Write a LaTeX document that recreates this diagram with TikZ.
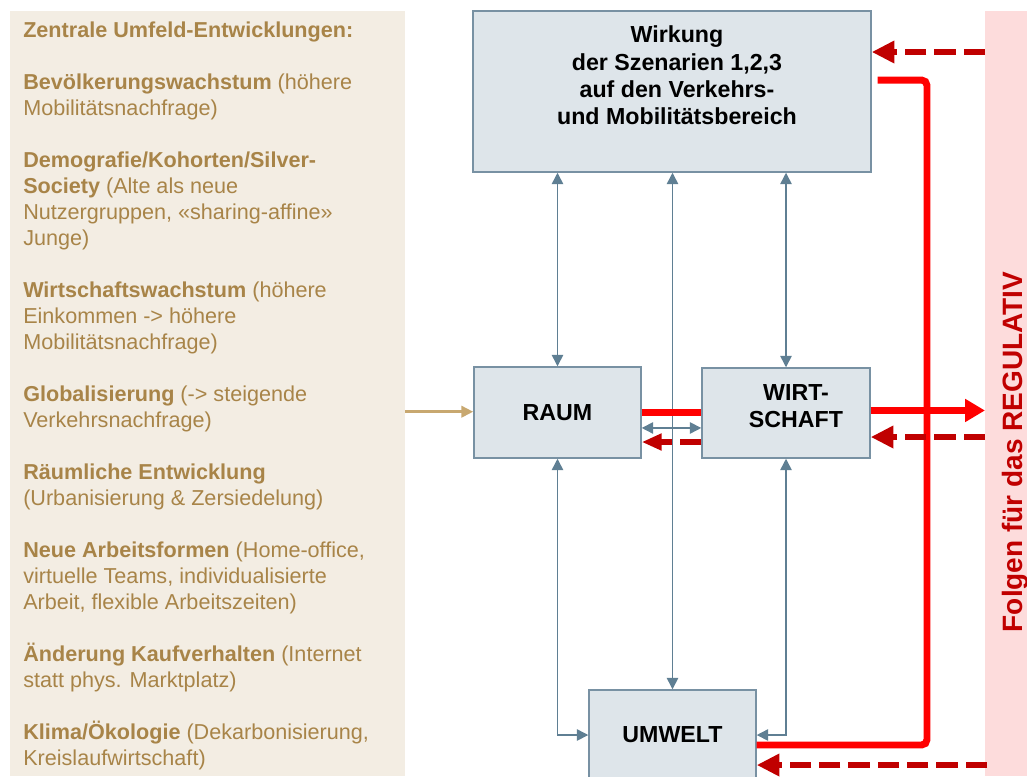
\documentclass[tikz,border=0pt]{standalone}
\usepackage{fontspec}
\setmainfont{Liberation Sans}
\usetikzlibrary{arrows.meta}

\definecolor{umfeldbeige}{RGB}{243,237,227}
\definecolor{umfeldbraun}{RGB}{168,132,72}
\definecolor{umfeldpfeil}{RGB}{200,168,112}
\definecolor{regulativrosa}{RGB}{253,220,220}
\definecolor{dunkelrot}{RGB}{192,0,0}
\definecolor{feldfuell}{RGB}{222,229,234}
\definecolor{feldrand}{RGB}{120,145,163}
\definecolor{pfeilblau}{RGB}{95,127,147}

\tikzset{
  feldbox/.style={draw=feldrand, line width=1.1pt, fill=feldfuell, inner sep=0pt},
  feldtext/.style={align=center, inner sep=0pt, font=\bfseries\fontsize{17.4}{20.6}\selectfont},
  % Basislinie = letzte Zeile des Blocks
  umfeld/.style={anchor=base west, align=left, inner sep=0pt, text=umfeldbraun,
    font=\fontsize{16.2}{19.5}\selectfont},
  pfeilgrau/.style={draw=pfeilblau, line width=1.1pt,
    {Triangle[length=8.5pt,width=8.5pt]}-{Triangle[length=8.5pt,width=8.5pt]}},
  rotlinie/.style={draw=red, line width=5.2pt},
  rotgestrichelt/.style={draw=dunkelrot, line width=5pt, dash pattern=on 16pt off 6pt,
    -{Triangle[length=17pt,width=16pt]}}
}

\begin{document}
\begin{tikzpicture}[x=0.75pt,y=-0.75pt]
    \useasboundingbox (0,0) rectangle (1027,776);
    % Hintergrund
    \fill[umfeldbeige] (10,10.7) rectangle (405,776);
    \node[fill=regulativrosa, inner sep=0pt, anchor=north west,
        minimum width=31.5pt, minimum height=574pt] (regulativ) at (985,10.7) {};
    \node[rotate=90, inner sep=0pt, text=dunkelrot, font=\bfseries\fontsize{21}{24}\selectfont]
        (regulativtext) at (1015.5,452) {Folgen für das REGULATIV};

    % Umfeld-Entwicklungen
    \node[umfeld] (zentral) at (23,37.5) {\textbf{Zentrale Umfeld-Entwicklungen:}};
    \node[umfeld] (bevoelkerung) at (23,115.5) {\textbf{Bevölkerungswachstum} (höhere\\Mobilitätsnachfrage)};
    \node[umfeld] (demografie) at (23,245.5) {\textbf{Demografie/Kohorten/Silver-}\\\textbf{Society} (Alte als neue\\Nutzergruppen, «sharing-affine»\\Junge)};
    \node[umfeld] (wirtschaftswachstum) at (23,349.5) {\textbf{Wirtschaftswachstum} (höhere\\Einkommen -> höhere\\Mobilitätsnachfrage)};
    \node[umfeld] (globalisierung) at (23,427.5) {\textbf{Globalisierung} (-> steigende\\Verkehrsnachfrage)};
    \node[umfeld] (raeumlich) at (23,505.5) {\textbf{Räumliche Entwicklung}\\(Urbanisierung \& Zersiedelung)};
    \node[umfeld] (arbeitsformen) at (23,609.5) {\textbf{Neue Arbeitsformen} (Home-office,\\virtuelle Teams, individualisierte\\Arbeit, flexible Arbeitszeiten)};
    \node[umfeld] (kaufverhalten) at (23,687.5) {\textbf{Änderung Kaufverhalten} (Internet\\statt phys. Marktplatz)};
    \node[umfeld] (klima) at (23,765.5) {\textbf{Klima/Ökologie} (Dekarbonisierung,\\Kreislaufwirtschaft)};

    % Felder
    \node[feldbox, minimum width=298.5pt, minimum height=120.75pt] (wirkung) at (672,91.5) {};
    \node[feldtext] (wirkungtext) at (677,75.5) {Wirkung\\der Szenarien 1,2,3\\auf den Verkehrs-\\und Mobilitätsbereich};
    \node[feldbox, feldtext, minimum width=125.25pt, minimum height=68.25pt] (raum) at (557.5,412.5) {RAUM};
    \node[feldbox, minimum width=126pt, minimum height=67.5pt] (wirtschaft) at (786,413) {};
    \node[feldtext] (wirtschafttext) at (796,406) {WIRT-\\SCHAFT};
    \node[feldbox, feldtext, minimum width=125.25pt, minimum height=67.5pt] (umwelt) at (672.5,735) {UMWELT};

    % Wechselwirkungen
    \draw[pfeilgrau] (raum.north) -- (raum.north |- wirkung.south);
    \draw[pfeilgrau] (umwelt.north) -- (umwelt.north |- wirkung.south);
    \draw[pfeilgrau] (wirtschaft.north) -- (wirtschaft.north |- wirkung.south);
    \draw[pfeilgrau] (raum.south) |- (umwelt.west);
    \draw[pfeilgrau] (wirtschaft.south) |- (umwelt.east);
    \draw[pfeilgrau] ([yshift=-11.6pt]raum.east) -- ([yshift=-11.6pt]raum.east -| wirtschaft.west);
    \coordinate (umfeldrand) at (405,411.7);
    \draw[draw=umfeldpfeil, line width=2.4pt, -{Triangle[length=9pt,width=8.5pt]}]
        (umfeldrand) -- (umfeldrand -| raum.west);

    % Folgen
    \draw[rotlinie] (raum.east) -- (raum.east -| wirtschaft.west);
    \draw[rotlinie, -{Triangle[length=15pt,width=16.5pt]}]
        ([yshift=1.9pt]wirtschaft.east) -- ([yshift=1.9pt]wirtschaft.east -| regulativ.west);
    \coordinate (knick) at (927,745);
    \draw[rotlinie, rounded corners=4pt]
        ([xshift=4.5pt,yshift=8.6pt]wirkung.east) -| (knick) -- (knick -| umwelt.east);

    % Rueckwirkung des Regulativs
    \coordinate (rueck1) at (985,52);
    \coordinate (rueck2) at (985,437);
    \coordinate (rueck3) at (987,765);
    \draw[rotgestrichelt] (rueck1) -- (rueck1 -| wirkung.east);
    \draw[rotgestrichelt] (rueck2) -- (rueck2 -| wirtschaft.east);
    \draw[rotgestrichelt] (rueck3) -- (rueck3 -| umwelt.east);
    \draw[rotgestrichelt, -{Triangle[length=15pt,width=12pt]}]
        ([yshift=-21.75pt]wirtschaft.west) -- ([yshift=-21.75pt]wirtschaft.west -| raum.east);
\end{tikzpicture}
\end{document}
